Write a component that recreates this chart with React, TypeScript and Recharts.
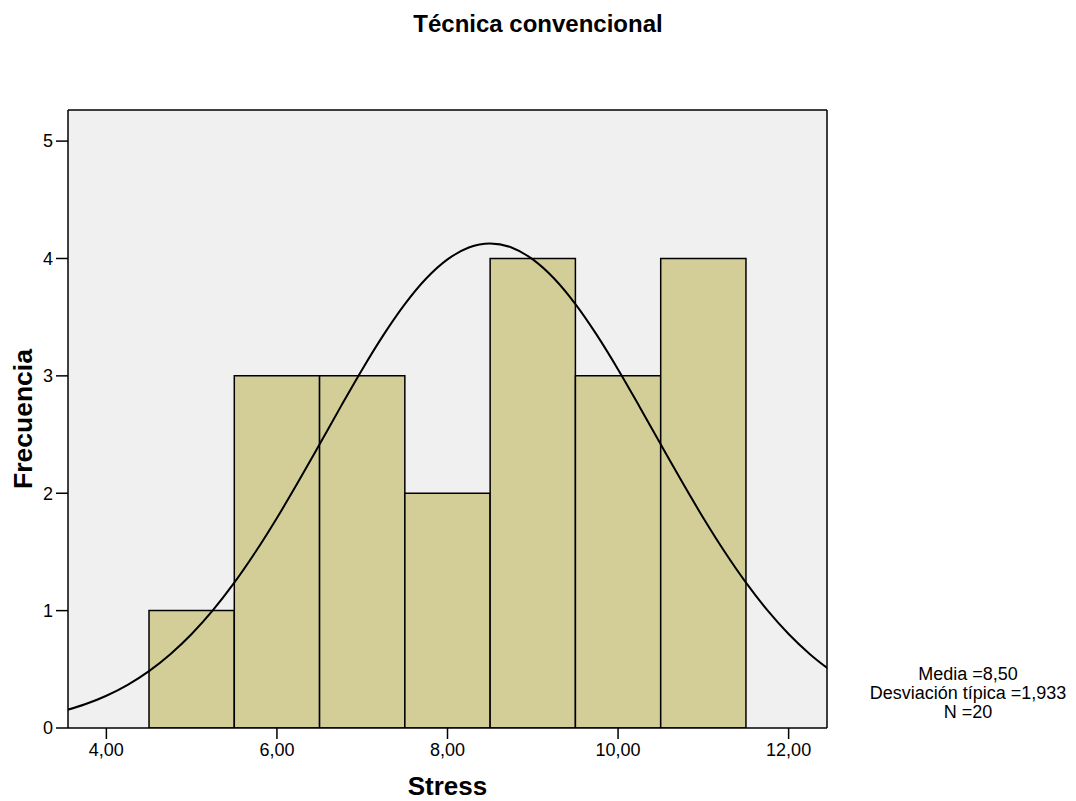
import React from 'react'
import {
  Bar,
  CartesianGrid,
  ComposedChart,
  Label,
  Line,
  ReferenceLine,
  XAxis,
  YAxis,
} from 'recharts'

// histogram bins (centre of each 1-wide bin) and their counts
const binCenters = [5, 6, 7, 8, 9, 10, 11]
const frequencies = [1, 3, 3, 2, 4, 3, 4]

// normal curve
const curveX = [
  3.5, 3.75, 4, 4.25, 4.5, 4.75, 5, 5.25, 5.5, 5.75, 6, 6.25, 6.5, 6.75, 7,
  7.25, 7.5, 7.75, 8, 8.25, 8.5, 8.75, 9, 9.25, 9.5, 9.75, 10, 10.25, 10.5,
  10.75, 11, 11.25, 11.5, 11.75, 12, 12.25, 12.5,
]
const curveY = [
  0.146, 0.202, 0.275, 0.368, 0.485, 0.629, 0.801, 1.004, 1.238, 1.501, 1.789,
  2.097, 2.417, 2.74, 3.055, 3.349, 3.611, 3.829, 3.992, 4.094, 4.128, 4.094,
  3.992, 3.829, 3.611, 3.349, 3.055, 2.74, 2.417, 2.097, 1.789, 1.501, 1.238,
  1.004, 0.801, 0.629, 0.485,
]

const xTicks = [4, 6, 8, 10, 12]
const yTicks = [0, 1, 2, 3, 4, 5]
const statLines = ['Media =8,50', 'Desviación típica =1,933', 'N =20']

const xDomain: [number, number] = [3.55, 12.45]
const yDomain: [number, number] = [0, 5.265]

const W = 1076
const H = 801
const margin = { top: 110, right: 249, bottom: 1, left: 8 }
const yAxisWidth = 60
const plotWidth = W - margin.left - margin.right - yAxisWidth
const unitPx = plotWidth / (xDomain[1] - xDomain[0])

const font = '"Liberation Sans", Arial, sans-serif'
const fmt = (v: number) => v.toFixed(2).replace('.', ',')

const bars = binCenters.map((x, i) => ({ x, count: frequencies[i] }))
const curve = curveX.map((x, i) => ({ cx: x, y: curveY[i] }))

const frame = { stroke: '#000', strokeWidth: 1.5 }

export default function App() {
  return (
    <div
      style={{
        position: 'absolute',
        left: 0,
        top: 0,
        width: W,
        height: H,
        background: '#fff',
        fontFamily: font,
      }}
    >
      <div
        style={{
          position: 'absolute',
          left: 0,
          width: W,
          top: 10,
          textAlign: 'center',
          fontSize: 24,
          fontWeight: 'bold',
          lineHeight: '28px',
        }}
      >
        Técnica convencional
      </div>

      <ComposedChart width={W} height={H} data={bars} margin={margin}>
        <CartesianGrid
          xAxisId='main'
          yAxisId='main'
          fill='#F0F0F0'
          horizontal={false}
          vertical={false}
        />
        <XAxis
          xAxisId='main'
          type='number'
          dataKey='x'
          domain={xDomain}
          allowDataOverflow
          ticks={xTicks}
          tickCount={10}
          tickFormatter={fmt}
          height={72}
          tickSize={11}
          tickMargin={4}
          axisLine={frame}
          tickLine={frame}
          tick={{ fill: '#000', fontSize: 18, fontFamily: font }}
        >
          <Label
            value='Stress'
            position='insideBottom'
            offset={5}
            style={{ fontSize: 26, fontWeight: 'bold', fill: '#000', fontFamily: font }}
          />
        </XAxis>
        {/* separate hidden axis for the curve so its dense points don't squeeze the bars */}
        <XAxis
          xAxisId='curve'
          orientation='top'
          type='number'
          dataKey='cx'
          domain={xDomain}
          allowDataOverflow
          height={0}
          hide
        />
        <YAxis
          yAxisId='main'
          domain={yDomain}
          allowDataOverflow
          ticks={yTicks}
          width={yAxisWidth}
          tickSize={12}
          tickMargin={3}
          axisLine={frame}
          tickLine={frame}
          tick={{ fill: '#000', fontSize: 18, fontFamily: font }}
        >
          <Label
            value='Frecuencia'
            angle={-90}
            position='insideLeft'
            offset={15}
            style={{
              fontSize: 26.5,
              fontWeight: 'bold',
              fill: '#000',
              fontFamily: font,
              textAnchor: 'middle',
            }}
          />
        </YAxis>
        <Bar
          xAxisId='main'
          yAxisId='main'
          dataKey='count'
          barSize={unitPx - 0.02}
          fill='#D3CE98'
          stroke='#000'
          strokeWidth={1.5}
          isAnimationActive={false}
        />
        <Line
          xAxisId='curve'
          yAxisId='main'
          data={curve}
          dataKey='y'
          type='monotone'
          stroke='#000'
          strokeWidth={2}
          dot={false}
          activeDot={false}
          isAnimationActive={false}
        />
        {/* top and right edges of the plot frame */}
        <ReferenceLine xAxisId='main' yAxisId='main' y={yDomain[1]} {...frame} />
        <ReferenceLine xAxisId='main' yAxisId='main' x={xDomain[1]} {...frame} />
      </ComposedChart>

      <div
        style={{
          position: 'absolute',
          left: 848,
          width: 240,
          top: 665,
          textAlign: 'center',
          fontSize: 18,
          lineHeight: '19px',
          whiteSpace: 'nowrap',
        }}
      >
        {statLines.map((s) => (
          <div key={s}>{s}</div>
        ))}
      </div>
    </div>
  )
}
